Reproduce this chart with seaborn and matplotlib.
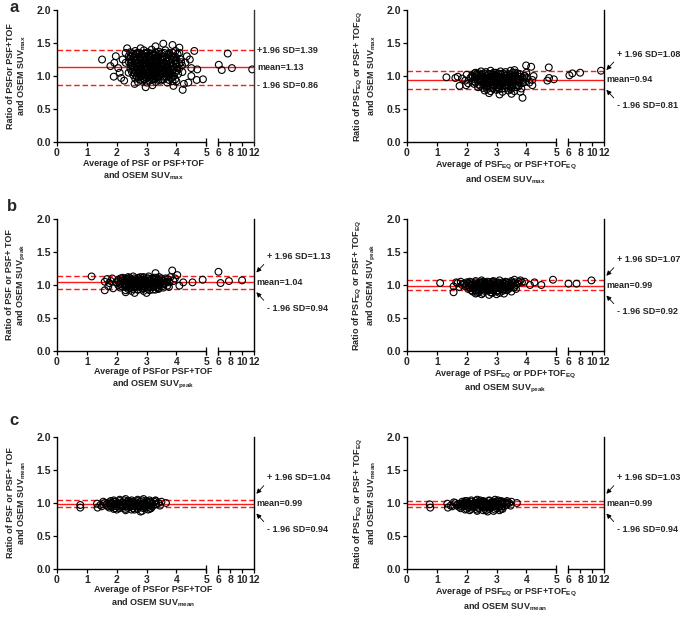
import matplotlib
matplotlib.use("Agg")
import matplotlib.pyplot as plt
import matplotlib.transforms as mtransforms
import seaborn as sns
import pandas as pd
import numpy as np

# ---- data: (average, ratio) pairs per panel ----
max_psf_pts = [
    (2.45, 1.36), (2.62, 1.38), (2.77, 1.35), (2.91, 1.39), (3.04, 1.36), (3.17, 1.40), (3.41, 1.37), (3.63, 1.39), (3.76, 1.35), (3.97, 1.38),
    (2.52, 1.31), (2.66, 1.33), (2.82, 1.30), (2.96, 1.34), (3.11, 1.31), (3.26, 1.33), (3.39, 1.30), (3.52, 1.34), (3.71, 1.32), (3.86, 1.30), (4.04, 1.33),
    (2.44, 1.26), (2.57, 1.28), (2.71, 1.25), (2.86, 1.29), (3.01, 1.27), (3.14, 1.25), (3.31, 1.28), (3.46, 1.26), (3.59, 1.29), (3.74, 1.25), (3.91, 1.28), (4.12, 1.26),
    (2.41, 1.21), (2.61, 1.23), (2.74, 1.20), (2.92, 1.24), (3.06, 1.21), (3.19, 1.23), (3.36, 1.20), (3.49, 1.24), (3.66, 1.22), (3.81, 1.20), (3.96, 1.23), (4.16, 1.21),
    (2.49, 1.16), (2.67, 1.18), (2.81, 1.15), (2.94, 1.19), (3.09, 1.16), (3.24, 1.18), (3.42, 1.15), (3.56, 1.19), (3.69, 1.17), (3.84, 1.15), (4.01, 1.18), (4.19, 1.16),
    (2.46, 1.11), (2.59, 1.13), (2.76, 1.10), (2.89, 1.14), (3.04, 1.11), (3.21, 1.13), (3.34, 1.10), (3.51, 1.14), (3.64, 1.12), (3.79, 1.10), (3.94, 1.13), (4.09, 1.11),
    (2.51, 1.06), (2.64, 1.08), (2.79, 1.05), (2.97, 1.09), (3.12, 1.06), (3.27, 1.08), (3.38, 1.05), (3.54, 1.09), (3.72, 1.07), (3.86, 1.05), (4.02, 1.08),
    (2.56, 1.01), (2.72, 1.03), (2.84, 1.00), (3.01, 1.04), (3.16, 1.01), (3.29, 1.03), (3.44, 1.00), (3.61, 1.04), (3.77, 1.02), (3.92, 1.00), (4.06, 1.03),
    (2.62, 0.96), (2.74, 0.98), (2.91, 0.95), (3.06, 0.99), (3.22, 0.96), (3.36, 0.98), (3.52, 0.95), (3.66, 0.99), (3.82, 0.97), (3.96, 0.95),
    (2.71, 0.91), (2.86, 0.93), (3.02, 0.90), (3.17, 0.94), (3.31, 0.91), (3.48, 0.93), (3.69, 0.90), (3.87, 0.92),
    (2.85, 1.24), (2.99, 1.19), (3.13, 1.28), (3.27, 1.14), (3.41, 1.22), (3.55, 1.04), (2.88, 1.07), (3.02, 1.13), (3.18, 1.02), (3.32, 1.25),
    (3.46, 1.11), (3.60, 1.17), (2.93, 1.30), (3.08, 1.24), (3.23, 1.08), (3.37, 1.16), (3.52, 1.29), (3.67, 1.06), (2.78, 1.18), (3.11, 0.98),
    (1.51, 1.25), (1.79, 1.15), (1.90, 0.99), (1.97, 1.30), (1.92, 1.20), (2.05, 1.12), (2.10, 1.05), (2.20, 1.25), (2.15, 0.97), (2.30, 1.35),
    (2.35, 1.42), (2.80, 1.42), (3.30, 1.45), (3.56, 1.49), (3.87, 1.47), (4.10, 1.43), (4.60, 1.38), (4.35, 1.30), (4.50, 1.00), (4.70, 1.10),
    (4.89, 0.95), (4.68, 0.94), (4.40, 0.90), (4.21, 0.79), (2.97, 0.83), (3.20, 0.86), (2.60, 0.88), (3.90, 0.85), (4.25, 0.88), (4.30, 1.20),
    (4.45, 1.25), (4.20, 1.06), (4.00, 0.92), (4.50, 1.12), (4.10, 1.35), (2.30, 1.20), (2.40, 1.05), (2.25, 0.93), (2.40, 1.30),
    (6.10, 1.17), (6.60, 1.09), (7.60, 1.34), (8.30, 1.12), (11.70, 1.10),
]
max_psf_core = [
    (2.54, 1.34), (2.69, 1.35), (2.84, 1.33), (2.99, 1.35), (3.14, 1.34), (3.29, 1.36), (3.44, 1.34), (3.59, 1.35), (3.74, 1.33), (3.89, 1.35),
    (2.47, 1.29), (2.62, 1.30), (2.77, 1.28), (2.92, 1.30), (3.07, 1.29), (3.22, 1.31), (3.37, 1.29), (3.52, 1.30), (3.67, 1.28), (3.82, 1.30), (3.97, 1.29),
    (2.50, 1.24), (2.65, 1.25), (2.80, 1.23), (2.95, 1.25), (3.10, 1.24), (3.25, 1.26), (3.40, 1.24), (3.55, 1.25), (3.70, 1.23), (3.85, 1.25), (4.00, 1.24),
    (2.47, 1.19), (2.62, 1.20), (2.77, 1.18), (2.92, 1.20), (3.07, 1.19), (3.22, 1.21), (3.37, 1.19), (3.52, 1.20), (3.67, 1.18), (3.82, 1.20), (3.97, 1.19), (4.10, 1.19),
    (2.52, 1.14), (2.67, 1.15), (2.82, 1.13), (2.97, 1.15), (3.12, 1.14), (3.27, 1.16), (3.42, 1.14), (3.57, 1.15), (3.72, 1.13), (3.87, 1.15), (4.02, 1.14),
    (2.55, 1.09), (2.70, 1.10), (2.85, 1.08), (3.00, 1.10), (3.15, 1.09), (3.30, 1.11), (3.45, 1.09), (3.60, 1.10), (3.75, 1.08), (3.90, 1.10),
    (2.60, 1.04), (2.75, 1.05), (2.90, 1.03), (3.05, 1.05), (3.20, 1.04), (3.35, 1.06), (3.50, 1.04), (3.65, 1.05), (3.80, 1.03), (3.95, 1.05),
    (2.67, 0.99), (2.82, 1.00), (2.97, 0.98), (3.12, 1.00), (3.27, 0.99), (3.42, 1.01), (3.57, 0.99), (3.72, 1.00), (3.87, 0.98),
    (2.80, 0.94), (2.95, 0.95), (3.10, 0.93), (3.25, 0.95), (3.40, 0.94), (3.58, 0.95), (3.75, 0.94),
]
max_eq_pts = [
    (2.30, 1.05), (2.48, 1.07), (2.64, 1.06), (2.80, 1.08), (2.97, 1.05), (3.13, 1.07), (3.30, 1.06), (3.47, 1.08), (3.62, 1.05),
    (2.18, 1.01), (2.34, 1.03), (2.50, 1.02), (2.66, 1.00), (2.82, 1.03), (2.98, 1.01), (3.14, 1.03), (3.30, 1.00), (3.46, 1.02), (3.62, 1.01), (3.78, 1.03), (3.93, 1.00),
    (2.12, 0.97), (2.27, 0.98), (2.43, 0.96), (2.59, 0.98), (2.75, 0.97), (2.91, 0.99), (3.07, 0.96), (3.23, 0.98), (3.39, 0.97), (3.55, 0.99), (3.71, 0.96), (3.87, 0.98), (4.02, 0.97),
    (2.20, 0.92), (2.36, 0.94), (2.52, 0.93), (2.68, 0.91), (2.84, 0.94), (3.00, 0.92), (3.16, 0.94), (3.32, 0.91), (3.48, 0.93), (3.64, 0.92), (3.80, 0.94), (3.96, 0.91),
    (2.25, 0.88), (2.41, 0.87), (2.57, 0.89), (2.73, 0.87), (2.89, 0.88), (3.05, 0.86), (3.21, 0.89), (3.37, 0.87), (3.53, 0.88), (3.69, 0.86), (3.85, 0.89),
    (2.38, 0.83), (2.55, 0.82), (2.71, 0.84), (2.87, 0.82), (3.03, 0.83), (3.19, 0.81), (3.35, 0.84), (3.51, 0.82), (3.67, 0.83), (3.83, 0.81),
    (2.60, 0.78), (2.80, 0.77), (3.00, 0.79), (3.20, 0.76), (3.40, 0.78), (3.60, 0.77),
    (2.50, 0.95), (2.65, 1.00), (2.80, 0.90), (2.95, 0.96), (3.10, 0.90), (3.25, 0.95), (3.40, 0.99), (3.55, 0.90), (2.70, 0.94),
    (2.90, 1.02), (3.05, 0.99), (3.20, 0.92), (3.35, 0.96), (3.50, 0.85), (2.60, 0.86), (3.15, 0.85), (2.45, 1.00), (3.70, 0.95),
    (1.32, 0.98), (1.62, 0.97), (1.76, 0.85), (1.98, 0.86), (1.70, 0.99), (1.85, 0.96), (2.00, 1.02), (1.95, 0.93), (2.05, 0.89),
    (3.99, 1.16), (4.16, 1.14), (4.75, 1.13), (4.24, 1.00), (4.76, 0.97), (4.92, 0.95), (4.70, 0.93), (4.10, 0.90), (4.20, 0.86),
    (3.87, 0.67), (3.50, 0.73), (2.75, 0.74), (3.10, 0.72), (3.80, 0.76), (4.00, 1.05), (3.60, 1.09), (4.20, 0.94),
    (6.20, 1.01), (6.70, 1.04), (8.00, 1.05), (11.50, 1.08),
]
max_eq_core = [
    (2.26, 1.04), (2.42, 1.04), (2.58, 1.04), (2.74, 1.03), (2.90, 1.05), (3.06, 1.04), (3.22, 1.04), (3.38, 1.03), (3.54, 1.05), (3.70, 1.04),
    (2.20, 0.99), (2.35, 1.00), (2.51, 0.99), (2.67, 1.00), (2.83, 0.99), (2.99, 1.00), (3.15, 0.99), (3.31, 1.00), (3.47, 0.99), (3.63, 1.00), (3.79, 0.99), (3.95, 1.00),
    (2.28, 0.95), (2.44, 0.94), (2.60, 0.95), (2.76, 0.95), (2.92, 0.94), (3.08, 0.95), (3.24, 0.95), (3.40, 0.94), (3.56, 0.95), (3.72, 0.95), (3.88, 0.94),
    (2.30, 0.90), (2.46, 0.91), (2.62, 0.90), (2.78, 0.91), (2.94, 0.90), (3.10, 0.91), (3.26, 0.90), (3.42, 0.91), (3.58, 0.90), (3.74, 0.91), (3.90, 0.90),
    (2.46, 0.85), (2.62, 0.86), (2.78, 0.85), (2.94, 0.86), (3.10, 0.85), (3.26, 0.86), (3.42, 0.85), (3.58, 0.86), (3.74, 0.85),
    (2.68, 0.80), (2.88, 0.81), (3.08, 0.80), (3.28, 0.81), (3.48, 0.80),
]
peak_psf_pts = [
    (2.20, 1.11), (2.38, 1.12), (2.55, 1.13), (2.72, 1.11), (2.90, 1.12), (3.07, 1.13), (3.25, 1.11), (3.42, 1.12),
    (2.05, 1.08), (2.20, 1.07), (2.35, 1.09), (2.50, 1.08), (2.65, 1.07), (2.80, 1.09), (2.95, 1.08), (3.10, 1.07), (3.25, 1.09), (3.40, 1.08), (3.55, 1.07), (3.70, 1.09),
    (1.98, 1.04), (2.12, 1.05), (2.27, 1.03), (2.42, 1.04), (2.57, 1.05), (2.72, 1.03), (2.87, 1.04), (3.02, 1.05), (3.17, 1.03), (3.32, 1.04), (3.47, 1.05), (3.62, 1.03), (3.77, 1.04),
    (2.05, 1.00), (2.20, 1.01), (2.35, 0.99), (2.50, 1.00), (2.65, 1.01), (2.80, 0.99), (2.95, 1.00), (3.10, 1.01), (3.25, 0.99), (3.40, 1.00), (3.55, 1.01), (3.70, 0.99),
    (2.12, 0.96), (2.28, 0.97), (2.44, 0.95), (2.60, 0.96), (2.76, 0.97), (2.92, 0.95), (3.08, 0.96), (3.24, 0.97), (3.40, 0.95), (3.56, 0.96),
    (2.30, 0.92), (2.50, 0.91), (2.70, 0.93), (2.90, 0.91), (3.10, 0.92), (3.30, 0.93),
    (2.30, 1.06), (2.45, 1.10), (2.60, 1.02), (2.75, 1.06), (2.90, 0.98), (3.05, 1.10), (3.20, 1.06), (3.35, 1.02),
    (2.40, 0.98), (2.55, 1.06), (2.85, 1.06), (3.00, 1.02), (3.15, 0.98), (2.65, 0.98), (2.80, 1.12),
    (1.16, 1.13), (1.60, 0.92), (1.60, 1.05), (1.68, 1.09), (1.75, 1.03), (1.72, 0.98), (1.85, 1.10), (1.88, 0.95), (1.80, 1.06),
    (3.30, 1.18), (3.86, 1.22), (4.03, 1.15), (4.10, 0.99), (4.23, 1.04), (4.54, 1.04), (4.88, 1.08), (3.90, 1.06), (3.95, 1.10),
    (3.80, 1.12), (3.75, 0.97), (2.60, 0.88), (3.00, 0.88), (2.30, 0.89),
    (6.05, 1.20), (6.40, 1.03), (7.80, 1.06), (10.0, 1.07),
]
peak_psf_core = [
    (2.13, 1.10), (2.28, 1.10), (2.43, 1.11), (2.58, 1.10), (2.73, 1.10), (2.88, 1.11), (3.03, 1.10), (3.18, 1.10), (3.33, 1.11), (3.50, 1.10), (3.64, 1.10),
    (2.05, 1.06), (2.20, 1.06), (2.35, 1.05), (2.50, 1.06), (2.65, 1.06), (2.80, 1.05), (2.95, 1.06), (3.10, 1.06), (3.25, 1.05), (3.40, 1.06), (3.55, 1.06), (3.70, 1.05),
    (2.10, 1.02), (2.25, 1.02), (2.40, 1.01), (2.55, 1.02), (2.70, 1.02), (2.85, 1.01), (3.00, 1.02), (3.15, 1.02), (3.30, 1.01), (3.45, 1.02), (3.60, 1.02),
    (2.18, 0.98), (2.33, 0.98), (2.48, 0.97), (2.63, 0.98), (2.78, 0.98), (2.93, 0.97), (3.08, 0.98), (3.23, 0.98), (3.38, 0.97), (3.53, 0.98),
    (2.38, 0.94), (2.55, 0.94), (2.72, 0.93), (2.88, 0.94), (3.05, 0.94), (3.22, 0.93), (3.40, 0.94),
]
peak_eq_pts = [
    (2.10, 1.05), (2.30, 1.06), (2.50, 1.07), (2.70, 1.05), (2.90, 1.06), (3.10, 1.07), (3.30, 1.05), (3.50, 1.06),
    (1.90, 1.02), (2.05, 1.03), (2.20, 1.01), (2.35, 1.02), (2.50, 1.03), (2.65, 1.01), (2.80, 1.02), (2.95, 1.03), (3.10, 1.01), (3.25, 1.02), (3.40, 1.03), (3.55, 1.01), (3.70, 1.02),
    (1.95, 0.98), (2.10, 0.99), (2.25, 0.97), (2.40, 0.98), (2.55, 0.99), (2.70, 0.97), (2.85, 0.98), (3.00, 0.99), (3.15, 0.97), (3.30, 0.98), (3.45, 0.99), (3.60, 0.97),
    (2.05, 0.94), (2.20, 0.95), (2.35, 0.93), (2.50, 0.94), (2.65, 0.95), (2.80, 0.93), (2.95, 0.94), (3.10, 0.95), (3.25, 0.93), (3.40, 0.94),
    (2.20, 0.90), (2.40, 0.89), (2.60, 0.91), (2.80, 0.89), (3.00, 0.90), (3.20, 0.91),
    (2.50, 0.86), (2.75, 0.85), (3.00, 0.86), (3.25, 0.87), (2.30, 0.87),
    (2.15, 1.00), (2.30, 0.96), (2.45, 1.04), (2.60, 0.98), (2.75, 1.00), (2.90, 0.96), (3.05, 1.04),
    (3.20, 0.99), (3.35, 0.96), (2.40, 0.91), (2.70, 0.92), (2.95, 1.00), (2.55, 1.05), (2.85, 1.05),
    (1.11, 1.03), (1.56, 0.89), (1.56, 0.98), (1.70, 1.03), (1.75, 0.97), (1.80, 1.05), (1.85, 1.00), (1.65, 1.04),
    (3.60, 1.08), (3.80, 1.07), (3.94, 1.05), (3.75, 1.05), (3.85, 1.04), (4.12, 1.00), (4.27, 1.04), (4.50, 1.00), (4.89, 1.08),
    (3.50, 0.90), (3.65, 0.94),
    (6.05, 1.02), (7.40, 1.02), (9.90, 1.07),
]
peak_eq_core = [
    (2.00, 1.04), (2.15, 1.04), (2.30, 1.04), (2.45, 1.03), (2.60, 1.04), (2.75, 1.04), (2.90, 1.04), (3.05, 1.03), (3.20, 1.04), (3.35, 1.04), (3.50, 1.04), (3.62, 1.04),
    (2.00, 1.00), (2.15, 1.00), (2.30, 1.00), (2.45, 1.01), (2.60, 1.00), (2.75, 1.00), (2.90, 1.00), (3.05, 1.01), (3.20, 1.00), (3.35, 1.00), (3.50, 1.00), (3.65, 1.00),
    (2.10, 0.96), (2.25, 0.96), (2.40, 0.96), (2.55, 0.95), (2.70, 0.96), (2.85, 0.96), (3.00, 0.96), (3.15, 0.95), (3.30, 0.96), (3.45, 0.96), (3.58, 0.96),
    (2.15, 0.92), (2.30, 0.92), (2.45, 0.92), (2.60, 0.93), (2.75, 0.92), (2.90, 0.92), (3.05, 0.92), (3.20, 0.93), (3.35, 0.92),
    (2.35, 0.88), (2.55, 0.88), (2.85, 0.88), (3.10, 0.88),
]
mean_psf_pts = [
    (1.90, 1.04), (2.10, 1.05), (2.30, 1.06), (2.50, 1.04), (2.70, 1.05), (2.90, 1.06), (3.10, 1.04),
    (1.60, 1.00), (1.75, 1.01), (1.90, 1.02), (2.05, 1.00), (2.20, 1.01), (2.35, 1.02), (2.50, 1.00), (2.65, 1.01), (2.80, 1.02), (2.95, 1.00), (3.10, 1.01), (3.25, 1.02), (3.40, 1.00),
    (1.65, 0.97), (1.80, 0.96), (1.95, 0.98), (2.10, 0.97), (2.25, 0.96), (2.40, 0.98), (2.55, 0.97), (2.70, 0.96), (2.85, 0.98), (3.00, 0.97), (3.15, 0.96), (3.30, 0.98),
    (1.75, 0.93), (1.95, 0.92), (2.15, 0.94), (2.35, 0.93), (2.55, 0.92), (2.75, 0.94), (2.95, 0.93), (3.15, 0.92),
    (2.00, 0.90), (2.30, 0.89), (2.60, 0.90), (2.85, 0.88), (3.05, 0.90),
    (2.00, 0.99), (2.20, 0.95), (2.40, 1.03), (2.60, 0.99), (2.80, 0.95), (3.00, 1.03), (2.30, 0.99), (2.70, 0.99), (1.85, 0.99), (2.50, 0.95), (2.90, 0.99),
    (0.78, 0.97), (0.78, 0.93), (1.34, 0.99), (1.36, 0.93), (1.45, 0.97), (1.50, 0.95),
    (3.50, 1.02), (3.65, 1.00), (3.45, 0.96), (3.30, 1.04), (1.55, 1.02), (2.80, 0.87),
]
mean_psf_core = [
    (1.80, 1.03), (1.95, 1.02), (2.10, 1.03), (2.25, 1.04), (2.40, 1.03), (2.55, 1.02), (2.70, 1.03), (2.85, 1.04), (3.00, 1.03), (3.15, 1.02), (3.30, 1.03),
    (1.68, 0.99), (1.83, 1.00), (1.98, 0.99), (2.13, 0.98), (2.28, 0.99), (2.43, 1.00), (2.58, 0.99), (2.73, 0.98), (2.88, 0.99), (3.03, 1.00), (3.18, 0.99), (3.33, 0.98),
    (1.70, 0.95), (1.85, 0.94), (2.00, 0.95), (2.15, 0.96), (2.30, 0.95), (2.45, 0.94), (2.60, 0.95), (2.75, 0.96), (2.90, 0.95), (3.05, 0.94), (3.20, 0.95),
    (1.90, 0.91), (2.10, 0.92), (2.30, 0.91), (2.50, 0.90), (2.70, 0.91), (2.90, 0.92), (3.10, 0.91),
]
mean_eq_pts = [
    (1.95, 1.03), (2.15, 1.04), (2.35, 1.05), (2.55, 1.03), (2.75, 1.04), (2.95, 1.05), (3.15, 1.03),
    (1.62, 1.00), (1.78, 0.99), (1.93, 1.01), (2.08, 1.00), (2.23, 0.99), (2.38, 1.01), (2.53, 1.00), (2.68, 0.99), (2.83, 1.01), (2.98, 1.00), (3.13, 0.99), (3.28, 1.01), (3.42, 1.00),
    (1.68, 0.96), (1.83, 0.95), (1.98, 0.97), (2.13, 0.96), (2.28, 0.95), (2.43, 0.97), (2.58, 0.96), (2.73, 0.95), (2.88, 0.97), (3.03, 0.96), (3.18, 0.95), (3.33, 0.97),
    (1.80, 0.92), (2.00, 0.91), (2.20, 0.93), (2.40, 0.92), (2.60, 0.91), (2.80, 0.93), (3.00, 0.92), (3.20, 0.91),
    (2.10, 0.89), (2.35, 0.88), (2.65, 0.89), (2.90, 0.88), (3.10, 0.89),
    (2.05, 0.98), (2.25, 0.94), (2.45, 1.02), (2.65, 0.98), (2.85, 0.94), (3.05, 1.02), (2.35, 0.98), (2.75, 0.98), (1.90, 0.98), (2.55, 0.94), (2.95, 0.98),
    (0.76, 0.98), (0.78, 0.93), (1.35, 0.99), (1.37, 0.93), (1.46, 0.96), (1.52, 0.95),
    (3.50, 1.02), (3.68, 1.00), (3.47, 0.96), (3.35, 1.03), (1.57, 1.01), (2.70, 0.87),
]
mean_eq_core = [
    (1.85, 1.02), (2.00, 1.03), (2.15, 1.02), (2.30, 1.03), (2.45, 1.04), (2.60, 1.02), (2.75, 1.03), (2.90, 1.02), (3.05, 1.04), (3.20, 1.02), (3.35, 1.01),
    (1.70, 0.98), (1.85, 0.99), (2.00, 1.00), (2.15, 0.98), (2.30, 1.00), (2.45, 0.99), (2.60, 1.00), (2.75, 0.99), (2.90, 1.00), (3.05, 0.98), (3.20, 1.00), (3.35, 0.99),
    (1.75, 0.94), (1.90, 0.95), (2.05, 0.94), (2.20, 0.96), (2.35, 0.94), (2.50, 0.95), (2.65, 0.94), (2.80, 0.96), (2.95, 0.95), (3.10, 0.94), (3.25, 0.95),
    (1.95, 0.90), (2.15, 0.91), (2.35, 0.90), (2.55, 0.89), (2.75, 0.91), (2.95, 0.90), (3.15, 0.91),
]

# mean, +1.96 SD, -1.96 SD
max_psf_stats = [1.13, 1.39, 0.86]
max_eq_stats = [0.94, 1.08, 0.81]
peak_psf_stats = [1.04, 1.13, 0.94]
peak_eq_stats = [0.99, 1.07, 0.92]
mean_psf_stats = [0.99, 1.04, 0.94]
mean_eq_stats = [0.99, 1.03, 0.94]

x_ticks = [0, 1, 2, 3, 4, 5, 6, 8, 10, 12]
y_ticks = [0.0, 0.5, 1.0, 1.5, 2.0]

ylabels = [
    "Ratio of PSFor PSF+TOF\nand OSEM SUV$_{max}$",
    "Ratio of PSF$_{EQ}$ or PSF+ TOF$_{EQ}$\nand OSEM SUV$_{max}$",
    "Ratio of PSF or PSF+ TOF\nand OSEM SUV$_{peak}$",
    "Ratio of PSF$_{EQ}$ or PSF+ TOF$_{EQ}$\nand OSEM SUV$_{peak}$",
    "Ratio of PSF or PSF+ TOF\nand OSEM SUV$_{mean}$",
    "Ratio of PSF$_{EQ}$ or PSF+ TOF$_{EQ}$\nand OSEM SUV$_{mean}$",
]
xlabels = [
    "Average of PSF or PSF+TOF\nand OSEM SUV$_{max}$",
    "Average of PSF$_{EQ}$ or PSF+TOF$_{EQ}$\nand OSEM SUV$_{max}$",
    "Average of PSFor PSF+TOF\nand OSEM SUV$_{peak}$",
    "Average of PSF$_{EQ}$ or PDF+TOF$_{EQ}$\nand OSEM SUV$_{peak}$",
    "Average of PSFor PSF+TOF\nand OSEM SUV$_{mean}$",
    "Average of PSF$_{EQ}$ or PSF+TOF$_{EQ}$\nand OSEM SUV$_{mean}$",
]
upper_fmt = ["+1.96 SD={:.2f}"] + ["+ 1.96 SD={:.2f}"] * 5
lower_fmt = "- 1.96 SD={:.2f}"

all_pts = [max_psf_pts + max_psf_core, max_eq_pts + max_eq_core,
           peak_psf_pts + peak_psf_core, peak_eq_pts + peak_eq_core,
           mean_psf_pts + mean_psf_core, mean_eq_pts + mean_eq_core]
all_stats = [max_psf_stats, max_eq_stats, peak_psf_stats, peak_eq_stats, mean_psf_stats, mean_eq_stats]

sns.set_style("ticks")
plt.rcParams["font.family"] = ["Liberation Sans", "DejaVu Sans"]
plt.rcParams["font.weight"] = "bold"
plt.rcParams["axes.labelweight"] = "bold"
plt.rcParams["mathtext.fontset"] = "custom"
plt.rcParams["mathtext.rm"] = "Liberation Sans:bold"
plt.rcParams["mathtext.it"] = "Liberation Sans:bold"
plt.rcParams["mathtext.bf"] = "Liberation Sans:bold"


# broken x axis: 0-5 full width, short gap, 6-12 compressed
def fwd(x):
    x = np.asarray(x, dtype=float)
    return np.where(x <= 5, x, np.where(x < 6, 5 + (x - 5) * 0.4, 5.4 + (x - 6) * 0.2))


def inv(u):
    u = np.asarray(u, dtype=float)
    return np.where(u <= 5, u, np.where(u < 5.4, 5 + (u - 5) / 0.4, 6 + (u - 5.4) / 0.2))


W, H = 685, 618
fig = plt.figure(figsize=(W / 100, H / 100), dpi=100)

lefts = [57, 407]
tops = [10, 219, 437]
ax_w, ax_h = 197, 132
xlab_x = [0.44, 0.50, 0.49, 0.50, 0.49, 0.50]

for i in range(6):
    row, col = divmod(i, 2)
    ax = fig.add_axes([lefts[col] / W, 1 - (tops[row] + ax_h) / H, ax_w / W, ax_h / H])
    df = pd.DataFrame(all_pts[i], columns=["avg", "ratio"])
    mean, up, lo = all_stats[i]

    # red lines under the circles, as in the original
    ax.axhline(mean, color="#ff1a1a", lw=1.0, zorder=1)
    ax.axhline(up, color="#ff1a1a", lw=1.0, ls=(0, (4, 2)), zorder=1)
    ax.axhline(lo, color="#ff1a1a", lw=1.0, ls=(0, (4, 2)), zorder=1)
    sns.scatterplot(data=df, x="avg", y="ratio", ax=ax, marker="o", s=24,
                    facecolor="none", edgecolor="black", linewidth=0.8, zorder=3)

    ax.set_xscale("function", functions=(fwd, inv))
    ax.set_xlim(0, 12)
    ax.set_ylim(0, 2.0)
    ax.set_xticks(x_ticks)
    ax.set_xticklabels([str(t) for t in x_ticks])
    ax.xaxis.set_minor_locator(matplotlib.ticker.NullLocator())
    ax.set_yticks(y_ticks)
    ax.set_yticklabels([f"{t:.1f}" for t in y_ticks])
    ax.tick_params(axis="both", direction="out", length=3, width=0.9, pad=1.5,
                   labelsize=7.5, color="black")
    for lab in ax.get_xticklabels() + ax.get_yticklabels():
        lab.set_fontweight("bold")

    ax.spines["top"].set_visible(False)
    ax.spines["bottom"].set_visible(False)
    ax.spines["left"].set_linewidth(1.0)
    ax.spines["right"].set_linewidth(1.0)
    ax.spines["left"].set_color("black")
    ax.spines["right"].set_color("#333333" if i == 0 else "black")
    xt = ax.get_xaxis_transform()
    ax.plot([0, 5], [0, 0], color="black", lw=1.0, transform=xt, clip_on=False)
    ax.plot([6, 12], [0, 0], color="black", lw=1.0, transform=xt, clip_on=False)
    ax.plot([5, 6], [0, 0], ls="none", marker="|", ms=6, mew=0.9, color="black",
            transform=xt, clip_on=False)

    ax.set_ylabel(ylabels[i], fontsize=6.5, fontweight="bold", linespacing=1.1)
    ax.yaxis.set_label_coords(-0.145, 0.5)
    ax.set_xlabel(xlabels[i], fontsize=6.5, fontweight="bold", linespacing=1.2)
    ax.xaxis.set_label_coords(xlab_x[i], -0.125)

    tr = mtransforms.blended_transform_factory(ax.transAxes, ax.transData)
    if i == 0:
        ax.text(1.015, up, upper_fmt[i].format(up), transform=tr, va="center", ha="left", fontsize=6.5)
        ax.text(1.015, mean, f"mean={mean:.2f}", transform=tr, va="center", ha="left", fontsize=6.5)
        ax.text(1.015, lo, lower_fmt.format(lo), transform=tr, va="center", ha="left", fontsize=6.5)
    else:
        ax.text(1.01, mean, f"mean={mean:.2f}", transform=tr, va="center", ha="left", fontsize=6.5)
        arrow = dict(arrowstyle="-|>", color="black", lw=0.6, mutation_scale=7, shrinkA=0, shrinkB=0)
        ax.annotate(upper_fmt[i].format(up), xy=(1.012, mean + 0.15), xycoords=tr,
                    xytext=(1.065, mean + 0.39), textcoords=tr, va="center", ha="left",
                    fontsize=6.5, arrowprops=dict(arrow, relpos=(0, 0)))
        ax.annotate(lower_fmt.format(lo), xy=(1.012, mean - 0.15), xycoords=tr,
                    xytext=(1.065, mean - 0.39), textcoords=tr, va="center", ha="left",
                    fontsize=6.5, arrowprops=dict(arrow, relpos=(0, 1)))

for letter, (lx, ly) in zip(["a", "b", "c"], [(9, 0), (7, 199), (9, 413)]):
    fig.text(lx / W, 1 - ly / H, letter, fontsize=12, fontweight="bold", va="top", ha="left")

fig.savefig("out.png", dpi=100)
